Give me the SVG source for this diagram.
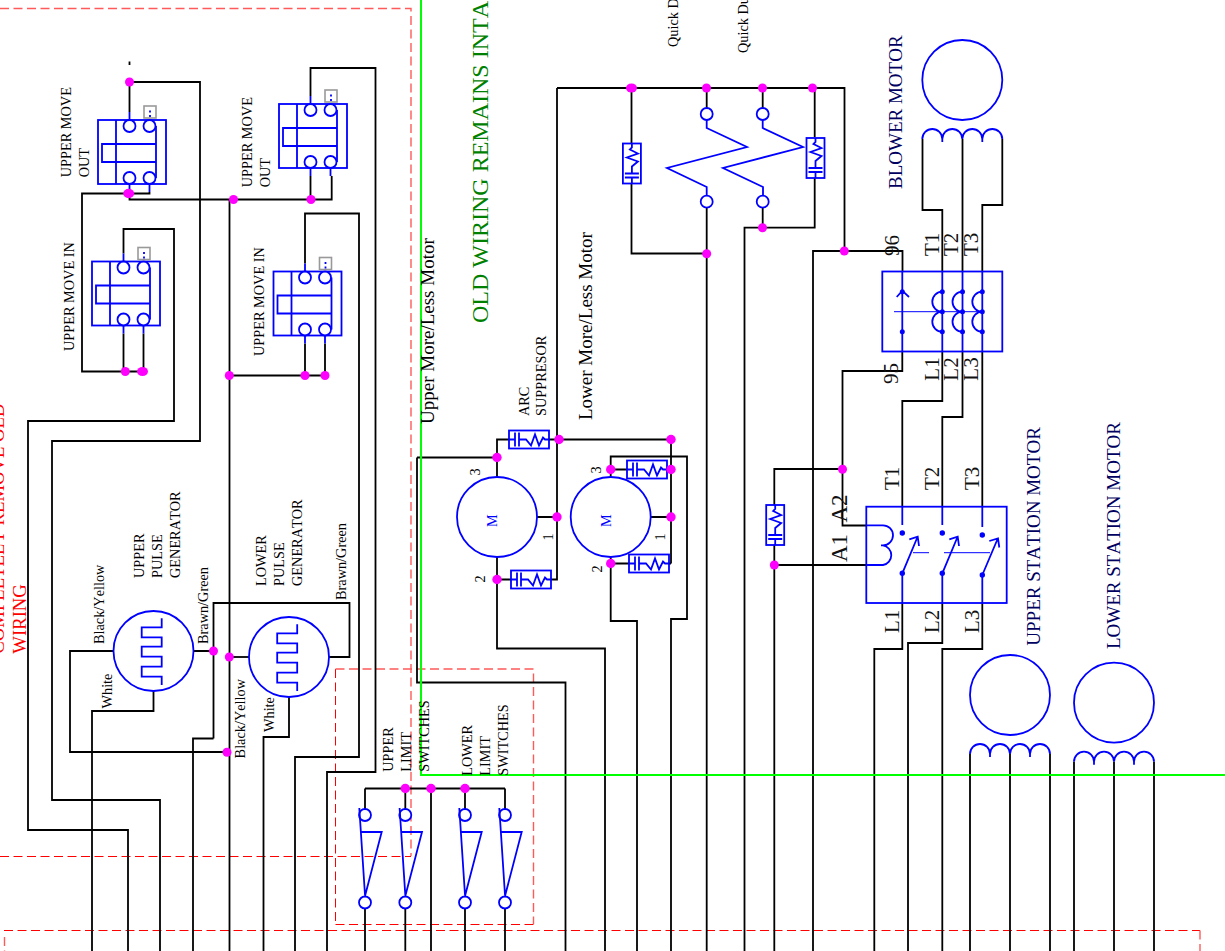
<svg xmlns="http://www.w3.org/2000/svg" xmlns:xlink="http://www.w3.org/1999/xlink" width="1225" height="951" viewBox="0 0 1225 951">
<style>
text{font-family:"Liberation Serif","Times New Roman",serif;fill:#000;font-size:14.3px;font-kerning:none}
.w{fill:none;stroke:#000;stroke-width:1.8}
.b{fill:none;stroke:#00f;stroke-width:1.8}
.bt{fill:none;stroke:#00f;stroke-width:1}
.bd{fill:#00f}
.g{fill:none;stroke:#00ff00;stroke-width:2}
.r{fill:none;stroke:#f00;stroke-width:1;stroke-dasharray:9 4.5}
.rp{fill:none;stroke:#ff5a5a;stroke-width:1.4;stroke-dasharray:9 4.5}
.j{fill:#f0f}
.big{font-size:19px}
.lab{font-size:21px;fill:#111}
.lab2{font-size:23px;fill:#111}
.navy{font-size:19px;fill:#000060}
.red{font-size:18.7px;fill:#f00}
.grn{font-size:24px;fill:#008000}
</style>
<defs>
<g id="block">
<rect class="b" x="0" y="0" width="68" height="64"/>
<path class="b" d="M18,0V64M4,24H58V42H4ZM58,6V58M31.5,-8V0M31.5,64V72M51.5,64V72"/>
<circle class="b" cx="31.5" cy="6" r="6" style="fill:#fff"/><circle class="b" cx="51.5" cy="6" r="6" style="fill:#fff"/>
<circle class="b" cx="31.5" cy="58" r="6" style="fill:#fff"/><circle class="b" cx="51.5" cy="58" r="6" style="fill:#fff"/>
<rect x="46" y="-14" width="12" height="12" fill="none" stroke="#999" stroke-width="1.6"/>
<path class="b" d="M52,-9.5V-7.5M52,-5V-3"/>
</g>
<g id="supp">
<rect class="b" x="0" y="-9" width="40" height="18" style="fill:#fff"/>
<path class="b" d="M0,0H6M6,-7V7M10,-7V7M10,0H17L22,6L26,-5L30,6L34,-2L36,0H40"/>
</g>
<path id="coil4" class="b" d="M0,0A10,10 0 0 1 20,0V3M20,0A10,10 0 0 1 40,0M40,0A10,10 0 0 1 60,0V3M60,0A10,10 0 0 1 80,0"/>
<path id="pulse" class="b" d="M8.2,-32.7V-23.7H-11.8V-13.7H8.2V-4.3H-11.8V5.7H8.2V15.7H-11.8V25.7H8.2V34"/>
<g id="limit">
<circle class="b" cx="0" cy="27" r="6" style="fill:#fff"/><circle class="b" cx="0" cy="114.5" r="6" style="fill:#fff"/>
<path class="b" d="M-5.7,20L0,107M-4.7,44H16.7L0,108"/>
</g>
</defs>

<g id="boundaries">
<path class="rp" d="M0,8.5H411V856"/>
<path class="r" d="M0,856.5H411"/>
<path class="r" d="M335.5,669V924"/>
<path class="rp" d="M335.5,669H533.5V924"/>
<path class="r" d="M335.5,924.5H533.5"/>
<path class="r" d="M4,930.5H1200"/>
<path class="rp" d="M1200,930.5V951M4.5,937V951"/>
</g>

<g id="connectors">
<path class="w" d="M129.5,112V82H200V441H52V800H160V951"/>
<path class="w" d="M123.5,253.5V229H174V421H28V830H128V951"/>
<path class="w" d="M123.5,333.5V371.5M143.5,333.5V371.5M143.5,371.5H82V193.5H149.5V192"/>
<path class="w" d="M129.5,192V199.5H331.7V176M310.5,176V199.5"/>
<path class="w" d="M229.5,199.5V951"/>
<path class="w" d="M310.5,96V68H375.5V772H327V951"/>
<path class="w" d="M305,263.5V213.5H359V757H295V951"/>
<path class="w" d="M305,343.5V375.5M325,343.5V375.5M325,375.5H229.5"/>
<path class="w" d="M113.5,651H70V752H227"/>
<path class="w" d="M193.5,651H213.5M213.5,738.5V603H349.5V657H329M213.5,738.5H193V951"/>
<path class="w" d="M249,657H229.5"/>
<path class="w" d="M153.5,691V711H92V951"/>
<path class="w" d="M289,697V737H263.5V951"/>
<path class="w" d="M497,477V439.5H509M417,457.5H497M417,457.5V682.5H565.5V951"/>
<path class="w" d="M549,439.5H671V563.5"/>
<path class="w" d="M537,517H557M557,88V579.5H551"/>
<path class="w" d="M511,579.5H497M497,557V648.5H605V951"/>
<path class="w" d="M610.7,477V456.5H687V619H671V951"/>
<path class="w" d="M610.7,469.5H627M667,469.5H671M650.7,517H671M610.7,563.5H629M669,563.5H671"/>
<path class="w" d="M610.7,557V621H637V951"/>
<path class="w" d="M557,88H844.5V251M813,951V251H902.5V271"/>
<path class="w" d="M631.5,88V144M631.5,183V253.5H706.7"/>
<path class="w" d="M706.7,88V108M706.7,208V951"/>
<path class="w" d="M762.7,88V108M762.7,208V227.7"/>
<path class="w" d="M744.5,951V227.7H814.7V178M814.7,88V137"/>
<path class="w" d="M922.5,139V210H942.3V271M962.5,139V271M1002.3,139V205H982.3V271"/>
<path class="w" d="M902.3,352V371H842.5V525.5H866M842.5,469H774.3V505M774.3,545V951M774.3,565H866"/>
<path class="w" d="M942.3,352V401H902.3V507M962.5,352V417H942.3V507M982.3,352V507"/>
<path class="w" d="M902.3,603V649H874.3V951M942.3,603V643H908V951M982.3,603V649H942.3V951"/>
<path class="w" d="M970,754V951M1010,754V951M1050,754V951M1074,761.7V951M1114,761.7V951M1154,761.7V951"/>
<path class="w" d="M365,788.5H505M365,788.5V809M405.3,788.5V809M465,788.5V809M505,788.5V809M431,788.5V951"/>
<path class="w" d="M365,908V951M405.3,908V951M465,908V951M505,908V951"/>
<path class="w" d="M129.5,61.5V65"/>
</g>

<g id="green-lines">
<path class="g" d="M421,0V775H1225"/>
</g>

<g id="switch-upper-move-out-1"><use xlink:href="#block" href="#block" x="98" y="120"/>
<text transform="translate(71,177.3) rotate(-90)">UPPER MOVE</text><text transform="translate(88.5,177.3) rotate(-90)">OUT</text></g>
<g id="switch-upper-move-in-1"><use xlink:href="#block" href="#block" x="92" y="261.5"/>
<text transform="translate(73.5,351) rotate(-90)">UPPER MOVE IN</text></g>
<g id="switch-upper-move-out-2"><use xlink:href="#block" href="#block" x="279" y="104"/>
<text transform="translate(251.7,187.3) rotate(-90)">UPPER MOVE</text><text transform="translate(269.5,187.3) rotate(-90)">OUT</text></g>
<g id="switch-upper-move-in-2"><use xlink:href="#block" href="#block" x="273.5" y="271.5"/>
<text transform="translate(263.7,356) rotate(-90)">UPPER MOVE IN</text></g>

<g id="upper-pulse-generator">
<circle class="b" cx="153.5" cy="651" r="40"/><use xlink:href="#pulse" href="#pulse" x="153.5" y="651"/>
<text transform="translate(143.7,578) rotate(-90)">UPPER</text><text transform="translate(161.7,578) rotate(-90)">PULSE</text><text transform="translate(179.7,578) rotate(-90)">GENERATOR</text>
<text transform="translate(104,644) rotate(-90)">Black/Yellow</text>
<text transform="translate(112,708.5) rotate(-90)">White</text>
<text transform="translate(208,644) rotate(-90)">Brawn/Green</text>
</g>
<g id="lower-pulse-generator">
<circle class="b" cx="289" cy="657" r="40"/><use xlink:href="#pulse" href="#pulse" x="289" y="657"/>
<text transform="translate(265.7,586) rotate(-90)">LOWER</text><text transform="translate(283.7,586) rotate(-90)">PULSE</text><text transform="translate(301.7,586) rotate(-90)">GENERATOR</text>
<text transform="translate(346,600) rotate(-90)">Brawn/Green</text>
<text transform="translate(244.7,758.4) rotate(-90)">Black/Yellow</text>
<text transform="translate(274,732) rotate(-90)">White</text>
</g>

<g id="upper-limit-switches">
<use xlink:href="#limit" href="#limit" x="365" y="788"/><use xlink:href="#limit" href="#limit" x="405.3" y="788"/>
<text transform="translate(392.7,771.7) rotate(-90)">UPPER</text><text transform="translate(411,771.7) rotate(-90)">LIMIT</text><text transform="translate(429.3,771.7) rotate(-90)">SWITCHES</text>
</g>
<g id="lower-limit-switches">
<use xlink:href="#limit" href="#limit" x="465" y="788"/><use xlink:href="#limit" href="#limit" x="505" y="788"/>
<text transform="translate(471.7,775.7) rotate(-90)">LOWER</text><text transform="translate(490,775.7) rotate(-90)">LIMIT</text><text transform="translate(507.7,775.7) rotate(-90)">SWITCHES</text>
</g>

<g id="upper-motor">
<circle class="b" cx="497" cy="517" r="40"/>
<text transform="translate(497,527) rotate(-90)" style="fill:#00f">M</text>
<text transform="translate(479.5,475.5) rotate(-90)">3</text><text transform="translate(553,540.5) rotate(-90)">1</text><text transform="translate(485,582.5) rotate(-90)">2</text>
<use xlink:href="#supp" href="#supp" x="509" y="439.5"/><use xlink:href="#supp" href="#supp" x="511" y="579.5"/>
<text transform="translate(529,416) rotate(-90)">ARC</text><text transform="translate(546,416) rotate(-90)">SUPPRESOR</text>
<text class="big" transform="translate(434,424) rotate(-90)">Upper More/Less Motor</text>
</g>
<g id="lower-motor">
<circle class="b" cx="610.7" cy="517" r="40"/>
<text transform="translate(610.7,527) rotate(-90)" style="fill:#00f">M</text>
<text transform="translate(601,473.5) rotate(-90)">3</text><text transform="translate(665,540.5) rotate(-90)">1</text><text transform="translate(601.7,572.5) rotate(-90)">2</text>
<use xlink:href="#supp" href="#supp" x="627" y="469.5"/><use xlink:href="#supp" href="#supp" x="629" y="563.5"/>
<text class="big" transform="translate(592,420) rotate(-90)">Lower More/Less Motor</text>
</g>

<g id="quick-disconnect">
<circle class="b" cx="706.7" cy="114" r="6"/><circle class="b" cx="706.7" cy="201.7" r="6"/>
<path class="b" d="M706.7,120V128L747,147L667,168L706.7,187V195.7"/>
<circle class="b" cx="762.7" cy="114" r="6"/><circle class="b" cx="762.7" cy="201.7" r="6"/>
<path class="b" d="M762.7,120V128L803,147L723,168L763,187V195.7"/>
<use xlink:href="#supp" href="#supp" transform="translate(631.9,183.5) rotate(-90)"/>
<use xlink:href="#supp" href="#supp" transform="translate(815.5,178) rotate(-90)"/>
<text transform="translate(678,47) rotate(-90)">Quick D</text>
<text transform="translate(747.7,53) rotate(-90)">Quick Du</text>
</g>

<g id="blower-motor">
<circle class="b" cx="962.3" cy="80" r="40"/>
<use xlink:href="#coil4" href="#coil4" x="922.3" y="139"/>
<text class="navy" transform="translate(902.3,189) rotate(-90)">BLOWER MOTOR</text>
</g>

<g id="overload">
<rect class="b" x="882.3" y="271.5" width="120" height="80"/>
<path class="b" d="M902.3,271.5V351.5M942.3,271.5V351.5M962.5,271.5V351.5M982.3,271.5V351.5"/>
<path class="bt" d="M894,311.7H982.3"/>
<path class="b" d="M896.7,297L902.3,290.7L909,297"/>
<path class="b" d="M942.3,291.7A10,10 0 0 0 942.3,311.7A10,10 0 0 0 942.3,331.7M962.5,291.7A10,10 0 0 0 962.5,311.7A10,10 0 0 0 962.5,331.7M982.3,291.7A10,10 0 0 0 982.3,311.7A10,10 0 0 0 982.3,331.7"/>
<g class="bd"><circle cx="902.3" cy="331.7" r="2.5"/><circle cx="902.3" cy="291.7" r="2.5"/><circle cx="942.3" cy="291.7" r="2.5"/><circle cx="942.3" cy="311.7" r="2.5"/><circle cx="942.3" cy="331.7" r="2.5"/><circle cx="962.5" cy="291.7" r="2.5"/><circle cx="962.5" cy="311.7" r="2.5"/><circle cx="962.5" cy="331.7" r="2.5"/><circle cx="982.3" cy="291.7" r="2.5"/><circle cx="982.3" cy="311.7" r="2.5"/><circle cx="982.3" cy="331.7" r="2.5"/></g>
<text class="lab" transform="translate(899,256) rotate(-90)">96</text>
<text class="lab" transform="translate(898,384) rotate(-90)">95</text>
<text class="lab" transform="translate(939,256) rotate(-90)">T1</text><text class="lab" transform="translate(958.3,256) rotate(-90)">T2</text><text class="lab" transform="translate(978.3,256) rotate(-90)">T3</text>
<text class="lab" transform="translate(939,380.7) rotate(-90)">L1</text><text class="lab" transform="translate(958.3,380.7) rotate(-90)">L2</text><text class="lab" transform="translate(978.3,380.7) rotate(-90)">L3</text>
</g>

<g id="contactor">
<rect class="b" x="866.3" y="506.7" width="140.4" height="96.3"/>
<path class="b" d="M866.3,525.3H883A10,10 0 0 1 883,545.3M881,545.3H883A10,10 0 0 1 883,565H866.3"/>
<path class="b" d="M902.3,506.7V525M942.3,506.7V525M982.3,506.7V527M902.3,573.3V603M942.3,573.3V603M982.3,575V603"/>
<path class="b" d="M902.3,573.3L917.5,537M909.3,539.3L917.7,536.7L919,546M942.3,573.3L957.5,537M949.3,539.3L957.7,536.7L959,546M982.3,575L998,538M989.3,541L998,538.5L999.3,547.5"/>
<path class="bt" d="M913,552.7H929M944,552.7H990"/>
<g class="bd"><circle cx="902.3" cy="533" r="2.7"/><circle cx="942.3" cy="533" r="2.7"/><circle cx="982.3" cy="535" r="2.7"/><circle cx="902.3" cy="573.3" r="2.7"/><circle cx="942.3" cy="573.3" r="2.7"/><circle cx="982.3" cy="575" r="2.7"/></g>
<use xlink:href="#supp" href="#supp" transform="translate(775.2,545) rotate(-90)"/>
<text class="lab" transform="translate(899,490) rotate(-90)">T1</text><text class="lab" transform="translate(939,490) rotate(-90)">T2</text><text class="lab" transform="translate(979,490) rotate(-90)">T3</text>
<text class="lab2" transform="translate(847,522.5) rotate(-90)">A2</text><text class="lab2" transform="translate(847,562) rotate(-90)">A1</text>
<text class="lab" transform="translate(899,633) rotate(-90)">L1</text><text class="lab" transform="translate(939,633) rotate(-90)">L2</text><text class="lab" transform="translate(979,633) rotate(-90)">L3</text>
</g>

<g id="upper-station-motor">
<circle class="b" cx="1010" cy="695" r="40"/>
<use xlink:href="#coil4" href="#coil4" x="970" y="754"/>
<text class="navy" transform="translate(1040,645.7) rotate(-90)">UPPER STATION MOTOR</text>
</g>
<g id="lower-station-motor">
<circle class="b" cx="1114" cy="702.7" r="40"/>
<use xlink:href="#coil4" href="#coil4" x="1074" y="761.7"/>
<text class="navy" transform="translate(1120,649) rotate(-90)">LOWER STATION MOTOR</text>
</g>

<g id="notes">
<text class="red" transform="translate(4,653.7) rotate(-90)">COMPLETELY REMOVE OLD</text>
<text class="red" transform="translate(26,653.7) rotate(-90)">WIRING</text>
<text class="grn" transform="translate(488,323) rotate(-90)">OLD WIRING REMAINS INTA</text>
</g>

<g id="junctions" class="j">
<circle cx="129.5" cy="82" r="4.5"/><ellipse cx="128.7" cy="193.5" rx="5.5" ry="4.7"/><circle cx="233.5" cy="199.5" r="4.5"/><circle cx="311" cy="199.5" r="4.5"/>
<circle cx="125.3" cy="371.5" r="4.5"/><ellipse cx="142.5" cy="371.5" rx="5.5" ry="4.5"/><circle cx="229.3" cy="375.5" r="4.5"/><circle cx="305" cy="375.5" r="4.5"/><circle cx="325" cy="375.5" r="4.5"/>
<circle cx="213.5" cy="651" r="4.5"/><circle cx="229.3" cy="657" r="4.5"/><circle cx="227" cy="752.3" r="4.5"/>
<circle cx="405.3" cy="788.5" r="4.7"/><circle cx="431" cy="788.5" r="4.7"/><circle cx="465" cy="788.5" r="4.7"/>
<circle cx="497" cy="457.5" r="4.7"/><circle cx="559" cy="439.5" r="4.7"/><circle cx="671" cy="439.5" r="4.7"/><circle cx="557" cy="517" r="4.7"/><circle cx="497" cy="579.5" r="4.7"/>
<circle cx="610.7" cy="469.5" r="4.7"/><circle cx="671" cy="469.5" r="4.7"/><circle cx="671" cy="517" r="4.7"/><circle cx="610.7" cy="563.5" r="4.7"/>
<ellipse cx="631.5" cy="88" rx="5.5" ry="4.5"/><circle cx="706.5" cy="88" r="4.5"/><circle cx="762.5" cy="88" r="4.5"/><circle cx="812.5" cy="88" r="4.5"/>
<circle cx="706.7" cy="253.7" r="4.5"/><circle cx="762.5" cy="227.7" r="4.5"/><circle cx="844.3" cy="251" r="4.5"/>
<circle cx="842.5" cy="469.3" r="4.5"/><circle cx="774.3" cy="565" r="4.5"/>
</g>
</svg>
